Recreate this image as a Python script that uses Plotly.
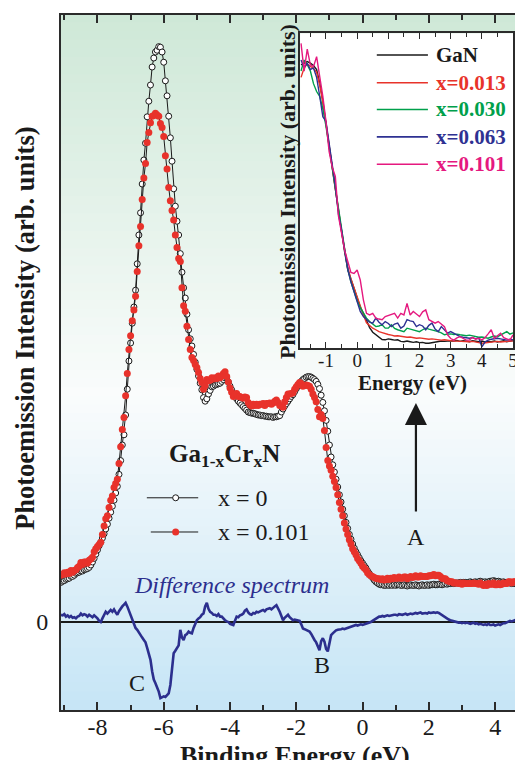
import numpy as np
import plotly.graph_objects as go

# ---------------- main spectra (binding energy grid, 0.05 eV) ----------------
E_START, E_STEP, N_MAIN = -9.10, 0.05, 277
energy = np.round(E_START + E_STEP * np.arange(N_MAIN), 2)

gan_x0 = [
    6.6, 6.8, 6.9, 7.1, 7.2, 7.3, 7.6, 7.6, 7.8, 8.1, 8.2, 8.3, 8.5, 8.5, 8.7, 8.8, 8.9, 9.1, 9.5, 10.0,
    10.6, 11.3, 12.0, 12.7, 13.3, 14.0, 14.7, 15.5, 16.3, 17.3, 18.3, 19.3, 20.3, 21.5, 22.6, 24.6, 26.9, 29.5, 31.2, 34.5,
    38.8, 43.5, 46.5, 49.8, 52.5, 55.3, 59.7, 64.5, 68.2, 73.0, 77.0, 79.8, 84.2, 86.8, 89.5, 92.5, 94.0, 95.0, 95.3, 95.9,
    95.8, 95.0, 93.3, 90.2, 87.7, 84.3, 80.7, 76.8, 72.2, 69.3, 66.8, 64.5, 61.4, 58.3, 55.7, 54.0, 51.3, 48.7, 47.2, 46.0,
    44.6, 43.3, 42.1, 41.0, 39.8, 38.7, 37.4, 36.8, 37.2, 38.0, 38.6, 39.2, 39.3, 39.5, 39.6, 39.7, 39.8, 40.1, 40.4, 40.7,
    40.8, 40.0, 39.3, 38.7, 38.1, 37.7, 37.2, 36.8, 36.5, 36.2, 35.9, 35.6, 35.3, 35.0, 34.9, 34.8, 34.8, 34.7, 34.6, 34.5,
    34.5, 34.4, 34.4, 34.3, 34.3, 34.2, 34.2, 34.2, 34.1, 34.2, 34.2, 34.3, 34.4, 35.0, 35.5, 36.0, 36.4, 36.8, 37.2, 37.6,
    37.9, 38.4, 38.9, 39.3, 39.7, 40.1, 40.4, 40.6, 40.8, 40.9, 40.9, 40.8, 40.6, 40.4, 40.1, 39.6, 38.9, 37.8, 36.6, 35.2,
    33.6, 31.8, 29.5, 27.5, 26.2, 25.0, 23.8, 22.5, 21.2, 20.0, 18.8, 17.7, 16.6, 15.6, 14.6, 13.8, 13.0, 12.3, 11.7, 11.2,
    10.7, 10.2, 9.8, 9.4, 9.0, 8.5, 8.1, 7.7, 7.4, 7.0, 6.7, 6.5, 6.3, 6.2, 6.2, 6.1, 6.1, 6.2, 6.1, 6.2,
    6.1, 6.2, 6.1, 6.2, 6.2, 6.1, 6.1, 6.2, 6.1, 6.0, 6.1, 6.2, 6.1, 6.1, 6.2, 6.1, 6.0, 6.1, 6.2, 6.1,
    6.1, 6.2, 6.1, 6.2, 6.2, 6.3, 6.2, 6.2, 6.3, 6.3, 6.2, 6.3, 6.4, 6.3, 6.4, 6.4, 6.5, 6.4, 6.5, 6.5,
    6.5, 6.6, 6.5, 6.6, 6.6, 6.5, 6.6, 6.7, 6.6, 6.6, 6.7, 6.6, 6.7, 6.8, 6.7, 6.6, 6.7, 6.6, 6.7, 6.8,
    6.8, 6.9, 6.8, 6.7, 6.8, 6.7, 6.6, 6.7, 6.6, 6.5, 6.6, 6.5, 6.4, 6.5, 6.4, 6.5, 6.4,
]

cr_x0101 = [
    7.8, 7.9, 8.2, 8.0, 8.3, 8.1, 8.6, 8.3, 8.6, 8.7, 9.1, 9.3, 9.9, 9.6, 10.0, 10.0, 9.8, 10.3, 10.5, 10.8,
    11.7, 12.2, 12.6, 12.9, 13.3, 14.6, 16.0, 17.2, 17.7, 19.1, 20.3, 21.0, 22.4, 23.1, 23.8, 26.4, 29.2, 32.1, 34.1, 37.7,
    41.4, 45.4, 47.7, 50.2, 52.0, 54.3, 58.4, 62.7, 65.9, 70.4, 74.0, 76.4, 79.9, 81.6, 83.2, 84.3, 84.4, 84.8, 84.5, 84.3,
    83.1, 82.4, 80.9, 77.7, 75.5, 72.4, 70.2, 68.6, 67.0, 64.5, 62.4, 60.6, 60.1, 55.7, 52.7, 51.8, 49.3, 47.1, 45.4, 44.1,
    43.6, 42.9, 42.4, 41.6, 40.6, 39.9, 38.8, 39.4, 40.4, 40.2, 40.3, 40.7, 40.5, 40.7, 40.6, 41.0, 40.7, 41.0, 41.4, 41.7,
    40.9, 40.0, 39.0, 38.3, 37.6, 37.9, 38.1, 37.6, 37.6, 37.4, 37.3, 37.5, 37.4, 36.6, 36.2, 36.0, 36.3, 36.1, 36.3, 36.1,
    36.3, 36.3, 36.4, 36.1, 36.4, 36.4, 36.5, 36.3, 36.5, 36.8, 37.0, 36.6, 36.1, 36.0, 35.8, 36.7, 37.4, 38.0, 38.0, 38.1,
    38.2, 38.8, 39.2, 39.6, 39.9, 39.7, 39.3, 39.4, 39.5, 39.4, 39.3, 38.8, 38.0, 37.4, 36.7, 35.4, 34.2, 34.6, 33.9, 31.9,
    29.1, 26.9, 26.0, 25.3, 24.3, 23.4, 22.4, 21.2, 19.9, 18.8, 17.7, 16.5, 15.5, 14.6, 13.7, 13.0, 12.2, 11.7, 11.2, 10.6,
    10.2, 9.8, 9.3, 9.0, 8.7, 8.2, 7.9, 7.7, 7.6, 7.4, 7.3, 7.2, 7.2, 7.1, 7.2, 7.0, 7.1, 7.3, 7.1, 7.3,
    7.2, 7.4, 7.3, 7.3, 7.5, 7.3, 7.3, 7.5, 7.5, 7.2, 7.4, 7.6, 7.4, 7.5, 7.7, 7.5, 7.5, 7.7, 7.6, 7.6,
    7.6, 7.6, 7.7, 7.7, 7.8, 7.9, 7.7, 7.8, 7.8, 7.6, 7.3, 7.2, 7.2, 6.9, 6.8, 6.7, 6.7, 6.5, 6.5, 6.5,
    6.4, 6.5, 6.3, 6.5, 6.4, 6.4, 6.4, 6.4, 6.4, 6.5, 6.4, 6.4, 6.3, 6.5, 6.3, 6.1, 6.3, 6.1, 6.4, 6.3,
    6.3, 6.5, 6.2, 6.2, 6.4, 6.2, 6.3, 6.5, 6.4, 6.4, 6.7, 6.7, 6.5, 6.7, 6.7, 6.7, 6.7,
]

difference = [
    1.2, 1.1, 1.3, 0.9, 1.1, 0.8, 1.0, 0.7, 0.8, 0.6, 0.9, 1.0, 1.4, 1.1, 1.3, 1.2, 0.9, 1.2, 1.0, 0.8,
    1.1, 0.9, 0.6, 0.2, 0.0, 0.6, 1.3, 1.7, 1.4, 1.8, 2.0, 1.7, 2.1, 1.6, 1.2, 1.8, 2.3, 2.6, 2.9, 3.2,
    2.6, 1.9, 1.2, 0.4, -0.5, -1.0, -1.3, -1.8, -2.3, -2.6, -3.0, -3.4, -4.3, -5.2, -6.3, -8.2, -9.6, -10.2, -10.8, -11.6,
    -12.7, -12.6, -12.4, -12.5, -12.2, -11.9, -10.5, -8.2, -5.2, -4.8, -4.4, -3.9, -1.3, -2.6, -3.0, -2.2, -2.0, -1.6, -1.8, -1.9,
    -1.0, -0.4, 0.3, 0.6, 0.8, 1.2, 1.4, 2.6, 3.2, 2.2, 1.7, 1.5, 1.2, 1.2, 1.0, 1.3, 0.9, 0.9, 0.5, 0.3,
    0.1, 0.0, -0.3, -0.4, -0.5, 0.2, 0.9, 0.8, 1.1, 1.2, 1.4, 1.9, 2.1, 1.6, 1.3, 1.2, 1.5, 1.4, 1.7, 1.6,
    1.8, 1.9, 2.0, 1.8, 2.1, 2.2, 2.3, 2.1, 2.4, 2.6, 2.8, 2.3, 1.7, 1.0, 0.3, 0.7, 1.0, 1.2, 0.8, 0.5,
    0.3, 0.4, 0.3, 0.3, 0.2, -0.4, -1.1, -1.2, -1.3, -1.5, -1.6, -2.0, -2.6, -3.0, -3.4, -4.2, -4.7, -3.2, -2.7, -3.3,
    -4.5, -4.9, -3.5, -2.2, -1.9, -1.6, -1.4, -1.3, -1.3, -1.2, -1.1, -1.2, -1.1, -1.0, -0.9, -0.8, -0.8, -0.6, -0.5, -0.6,
    -0.5, -0.4, -0.5, -0.4, -0.3, -0.3, -0.2, 0.0, 0.2, 0.4, 0.6, 0.7, 0.9, 0.9, 1.0, 0.9, 1.0, 1.1, 1.0, 1.1,
    1.1, 1.2, 1.2, 1.1, 1.3, 1.2, 1.2, 1.3, 1.4, 1.2, 1.3, 1.4, 1.3, 1.4, 1.5, 1.4, 1.5, 1.6, 1.4, 1.5,
    1.5, 1.4, 1.6, 1.5, 1.6, 1.6, 1.5, 1.6, 1.5, 1.3, 1.1, 0.9, 0.8, 0.6, 0.4, 0.3, 0.2, 0.1, 0.0, 0.0,
    -0.1, -0.1, -0.2, -0.1, -0.2, -0.1, -0.2, -0.3, -0.2, -0.1, -0.3, -0.2, -0.4, -0.3, -0.4, -0.5, -0.4, -0.5, -0.3, -0.5,
    -0.5, -0.4, -0.6, -0.5, -0.4, -0.5, -0.3, -0.2, -0.2, -0.1, 0.1, 0.2, 0.1, 0.2, 0.3, 0.2, 0.3,
]

main_ticks = [-8, -6, -4, -2, 0, 2, 4]
main_ticktext = ["-8", "-6", "-4", "-2", "0", "2", "4"]
main_minor = [-9, -7, -5, -3, -1, 1, 3]

# ---------------- inset: valence-band edge (0.1 eV grid) ----------------
I_START, I_STEP, N_INSET = -1.8, 0.1, 69
inset_energy = np.round(I_START + I_STEP * np.arange(N_INSET), 1)

inset_gan = [
    90.0, 90.5, 91.0, 90.5, 89.8, 88.5, 84.2, 78.5, 71.0, 64.4,
    57.3, 50.5, 43.5, 36.0, 30.5, 24.8, 21.5, 19.0, 16.0, 13.0,
    11.0, 8.6, 6.5, 5.0, 4.2, 3.7, 2.7, 2.6, 2.9, 2.7,
    2.5, 2.6, 2.1, 2.0, 2.2, 2.0, 1.8, 2.0, 1.7, 1.8,
    1.5, 1.5, 1.7, 2.0, 2.1, 2.2, 2.1, 2.3, 2.3, 2.2,
    2.4, 2.1, 2.3, 2.2, 2.0, 2.3, 2.1, 2.0, 2.2, 1.9,
    2.1, 2.0, 2.2, 1.9, 2.1, 2.3, 2.0, 2.2, 2.4,
]
inset_x013 = [
    86.0, 89.0, 90.2, 89.6, 88.8, 87.6, 83.5, 78.0, 71.5, 65.0,
    58.0, 51.0, 44.0, 37.0, 31.0, 25.5, 22.0, 19.0, 16.2, 13.5,
    10.5, 8.0, 7.0, 6.3, 5.8, 5.2, 4.9, 4.5, 4.3, 4.1,
    3.8, 3.9, 3.7, 3.6, 3.4, 3.5, 3.2, 3.1, 3.2, 3.0,
    2.9, 2.8, 2.9, 2.7, 2.6, 2.5, 2.6, 2.4, 2.3, 2.2,
    2.2, 2.1, 2.2, 2.0, 2.0, 2.1, 1.8, 1.7, 1.5, 1.6,
    1.8, 1.9, 2.0, 2.1, 1.9, 2.0, 2.2, 2.1, 2.3,
]
inset_x030 = [
    88.0, 91.5, 90.0, 88.0, 84.0, 81.5, 80.0, 76.0, 70.5, 64.0,
    57.5, 50.0, 43.0, 36.5, 30.0, 25.0, 21.0, 18.0, 15.0, 12.8,
    11.0, 9.5, 8.4, 7.5, 6.8, 7.0, 7.4, 6.3, 6.3, 7.4,
    6.2, 5.8, 5.5, 5.2, 6.3, 6.0, 5.8, 5.5, 5.2, 5.8,
    6.3, 6.0, 5.8, 5.6, 5.2, 4.8, 4.2, 4.4, 4.5, 4.3,
    4.4, 4.2, 4.0, 3.9, 4.1, 3.8, 3.6, 3.4, 3.5, 3.2,
    3.1, 3.5, 3.8, 3.6, 4.2, 4.6, 5.2, 4.4, 4.8,
]
inset_x063 = [
    91.5, 89.0, 90.5, 88.5, 89.0, 86.0, 80.0, 73.5, 72.0, 65.5,
    58.5, 51.5, 42.5, 37.5, 31.0, 25.0, 21.0, 18.0, 14.8, 11.6,
    10.0, 9.0, 8.2, 7.9, 9.5, 8.2, 7.4, 8.4, 7.8, 6.8,
    7.6, 7.9, 6.3, 7.0, 9.0, 8.6, 8.4, 6.8, 7.4, 7.0,
    5.8, 7.2, 7.9, 6.0, 5.2, 6.8, 5.9, 4.7, 5.2, 4.6,
    4.0, 3.6, 3.4, 3.3, 3.1, 3.3, 2.9, 3.2, 0.4, 1.9,
    2.5, 2.8, 3.0, 3.1, 2.9, 2.7, 2.5, 2.8, 2.6,
]
inset_x101 = [
    96.8, 88.0, 95.0, 90.0, 89.4, 92.6, 86.2, 80.0, 72.0, 62.5,
    57.5, 54.5, 42.0, 36.0, 31.0, 27.5, 24.0, 23.7, 24.8, 21.6,
    15.3, 11.0, 10.5, 11.0, 9.5, 9.2, 9.0, 10.0, 10.3, 10.5,
    11.0, 9.5, 11.0, 10.5, 14.2, 10.5, 11.6, 10.8, 10.0, 11.5,
    12.1, 9.0, 8.5, 7.9, 8.4, 7.5, 6.8, 4.2, 3.0, 2.5,
    3.2, 3.6, 3.0, 2.5, 2.5, 3.4, 2.8, 3.1, 2.6, 3.3,
    4.5, 5.8, 3.1, 3.8, 4.7, 3.3, 2.8, 2.5, 4.2,
]
inset_labels = ["GaN", "x=0.013", "x=0.030", "x=0.063", "x=0.101"]
inset_ticks = [-1, 0, 1, 2, 3, 4, 5]
inset_ticktext = ["-1", "0", "1", "2", "3", "4", "5"]

# ---------------- styling ----------------
SERIF = "Liberation Serif"
AX = "#2b2b2b"
C_RED_DOT = "#e8322b"
C_DIFF = "#2c2f8e"
inset_colors = ["#1a1a1a", "#e8332a", "#00a04b", "#2e3192", "#e5197f"]

# the page body has an 8 px margin: keep the figure inside the window
W, H = 515, 752
ML, MR, MT = 53, 0, 7
PW, PH = 462, 695
MB = H - MT - PH
# plot area in window pixels: x 61..523, y 15..710
PX0, PY1 = 61, 710


def pxx(px):
    return (px - PX0) / PW


def pxy(py):
    return (PY1 - py) / PH


fig = go.Figure()

fig.add_trace(go.Scatter(
    x=energy, y=gan_x0, mode="lines+markers",
    line=dict(color="#1a1a1a", width=1),
    marker=dict(symbol="circle", size=6, color="white", line=dict(color="#1a1a1a", width=1)),
    showlegend=False, hoverinfo="skip"))
fig.add_trace(go.Scatter(
    x=energy, y=cr_x0101, mode="lines+markers",
    line=dict(color="#1a1a1a", width=1),
    marker=dict(symbol="circle", size=7, color=C_RED_DOT, line=dict(width=0)),
    showlegend=False, hoverinfo="skip"))
fig.add_trace(go.Scatter(
    x=energy, y=difference, mode="lines",
    line=dict(color=C_DIFF, width=2.6),
    showlegend=False, hoverinfo="skip"))

for ys, col in zip([inset_gan, inset_x013, inset_x030, inset_x063, inset_x101], inset_colors):
    fig.add_trace(go.Scatter(
        x=inset_energy, y=ys, mode="lines", xaxis="x2", yaxis="y2",
        line=dict(color=col, width=1.4), showlegend=False, hoverinfo="skip"))


def mix(c1, c2, t):
    return tuple(round(a + (b - a) * t) for a, b in zip(c1, c2))


def grad(t, stops):
    for (t0, c0), (t1, c1) in zip(stops[:-1], stops[1:]):
        if t <= t1:
            return mix(c0, c1, (t - t0) / (t1 - t0))
    return stops[-1][1]


shapes = []
main_stops = [(0.0, (206, 232, 215)), (0.55, (250, 252, 252)), (1.0, (198, 229, 246))]
NB = 80
for i in range(NB):
    c = grad((i + 0.5) / NB, main_stops)
    shapes.append(dict(type="rect", xref="paper", yref="paper", layer="below",
                       x0=0, x1=1.05, y1=1 - i / NB + 0.002, y0=1 - (i + 1) / NB,
                       fillcolor="rgb(%d,%d,%d)" % c, line=dict(width=0)))

ix0, ix1 = pxx(302.7), pxx(518)
iy0, iy1 = pxy(348), pxy(33.3)
inset_stops = [(0.0, (206, 232, 215)), (0.5, (250, 252, 252)), (1.0, (190, 226, 246))]
NI = 60
for i in range(NI):
    c = grad((i + 0.5) / NI, inset_stops)
    shapes.append(dict(type="rect", xref="paper", yref="paper", layer="below",
                       x0=ix0, x1=ix1,
                       y1=iy1 - (iy1 - iy0) * i / NI + 0.002,
                       y0=iy1 - (iy1 - iy0) * (i + 1) / NI,
                       fillcolor="rgb(%d,%d,%d)" % c, line=dict(width=0)))

# main legend samples
for yv, lx0, mk in [(20.7, -6.51, "open"), (15.0, -6.39, "red")]:
    shapes.append(dict(type="line", xref="x", yref="y", x0=lx0, x1=-4.96, y0=yv, y1=yv,
                       line=dict(color="#1a1a1a", width=1)))
    if mk == "open":
        shapes.append(dict(type="circle", xref="x", yref="y", xsizemode="pixel", ysizemode="pixel",
                           xanchor=-5.64, yanchor=yv, x0=-3, x1=3, y0=-3, y1=3,
                           fillcolor="white", line=dict(color="#1a1a1a", width=1)))
    else:
        shapes.append(dict(type="circle", xref="x", yref="y", xsizemode="pixel", ysizemode="pixel",
                           xanchor=-5.64, yanchor=yv, x0=-3.5, x1=3.5, y0=-3.5, y1=3.5,
                           fillcolor=C_RED_DOT, line=dict(width=0)))

inset_rows = [93.1, 84.3, 75.8, 67.1, 58.4]
for yv, col in zip(inset_rows, inset_colors):
    shapes.append(dict(type="line", xref="x2", yref="y2", x0=0.63, x1=2.27, y0=yv, y1=yv,
                       line=dict(color=col, width=1.6)))


def txt(x, y, text, size, color="#1a1a1a", xref="paper", yref="paper", xanchor="center",
        angle=0):
    return dict(xref=xref, yref=yref, x=x, y=y, text=text, showarrow=False,
                xanchor=xanchor, yanchor="middle", textangle=angle,
                font=dict(family=SERIF, size=size, color=color))


ann = [
    txt(pxx(24), pxy(328.5), "<b>Photoemission Intensity (arb. units)</b>", 26.5, angle=-90),
    txt(pxx(298), pxy(755), "<b>Binding Energy (eV)</b>", 26),
    txt(-4.16, 27.8, "<b>Ga<sub>1-x</sub>Cr<sub>x</sub>N</b>", 25, xref="x", yref="y"),
    txt(-4.42, 20.7, "x = 0", 24, xref="x", yref="y", xanchor="left"),
    txt(-4.42, 15.0, "x = 0.101", 24, xref="x", yref="y", xanchor="left"),
    txt(-3.97, 6.2, "<i>Difference spectrum</i>", 24, color=C_DIFF, xref="x", yref="y"),
    txt(-6.81, -10.2, "C", 24, xref="x", yref="y"),
    txt(-1.22, -7.2, "B", 24, xref="x", yref="y"),
    txt(1.61, 14.2, "A", 24, xref="x", yref="y"),
    dict(xref="x", yref="y", x=1.61, y=36.5, ax=0, ay=110, axref="pixel", ayref="pixel",
         text="", showarrow=True, arrowhead=2, arrowsize=2.0, arrowwidth=2.2,
         arrowcolor="#1a1a1a"),
    txt(pxx(290), pxy(191.5), "<b>Photoemission Intensity (arb. units)</b>", 22, angle=-90),
    txt(pxx(416.7), pxy(383), "<b>Energy (eV)</b>", 21),
]
for lab, yv, col in zip(inset_labels, inset_rows, inset_colors):
    ann.append(txt(2.48, yv, "<b>%s</b>" % lab, 21, color=col, xref="x2", yref="y2",
                   xanchor="left"))

fig.update_layout(
    width=W, height=H, margin=dict(l=ML, r=MR, t=MT, b=MB, pad=0),
    paper_bgcolor="white", plot_bgcolor="white",
    shapes=shapes, annotations=ann, showlegend=False,
    xaxis=dict(range=[-9.10, 4.69], domain=[0, 1], tickvals=main_ticks, ticktext=main_ticktext,
               ticks="inside", ticklen=8, tickwidth=1.5, tickcolor=AX,
               minor=dict(tickvals=main_minor, ticks="inside", ticklen=5, tickwidth=1.5, tickcolor=AX),
               showline=True, linecolor=AX, linewidth=1.8, mirror="ticks",
               showgrid=False, zeroline=False, ticklabelstandoff=-6,
               tickfont=dict(family=SERIF, size=24, color="#1a1a1a")),
    yaxis=dict(range=[-14.67, 101.17], domain=[0, 1], tickvals=[0], ticktext=["0"],
               ticks="", showline=True, linecolor=AX, linewidth=1.8, mirror=False,
               showgrid=False, zeroline=True, zerolinecolor="#1a1a1a", zerolinewidth=1.8,
               ticklabelstandoff=6,
               tickfont=dict(family=SERIF, size=24, color="#1a1a1a")),
    xaxis2=dict(domain=[ix0, ix1], anchor="y2", range=[-1.83, 5.0], tickvals=inset_ticks,
                ticktext=inset_ticktext,
                ticks="inside", ticklen=6, tickwidth=1.2, tickcolor=AX,
                minor=dict(dtick=0.5, tick0=0, ticks="inside", ticklen=4, tickwidth=1.2, tickcolor=AX),
                showline=True, linecolor=AX, linewidth=1.5, mirror="ticks",
                showgrid=False, zeroline=False, ticklabelstandoff=-6,
                tickfont=dict(family=SERIF, size=19, color="#1a1a1a")),
    yaxis2=dict(domain=[iy0, iy1], anchor="x2", range=[0, 100], showticklabels=False,
                ticks="", showline=True, linecolor=AX, linewidth=1.5, mirror=True,
                showgrid=False, zeroline=False),
)

fig.write_html("out.html")
